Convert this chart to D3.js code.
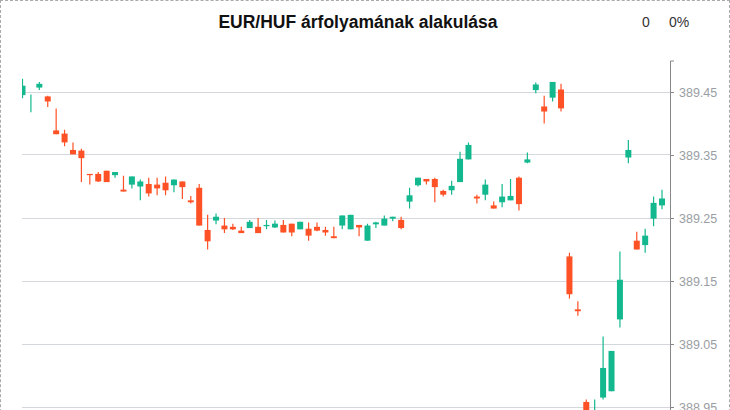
<!DOCTYPE html>
<html>
<head>
<meta charset="utf-8">
<script src="https://d3js.org/d3.v7.min.js"></script>
<style>
	body { margin: 0; background: #fff; }
	#chart-container { width: 728px; height: 520px; border: 1px dashed #aaa; position: relative; }
	svg { display: block; font-family: "Liberation Sans", Arial, sans-serif; }
</style>
</head>
<body>
<div id="chart-container"></div>
<script>
let opens  = [389.445, 389.436, 389.457, 389.443, 389.389, 389.384, 389.358, 389.357, 389.320, 389.320,
	389.325, 389.318, 389.295, 389.303, 389.300, 389.304, 389.303, 389.306, 389.302, 389.308,
	389.278, 389.298, 389.231, 389.246, 389.238, 389.236, 389.230, 389.234, 389.236, 389.237,
	389.235, 389.239, 389.241, 389.232, 389.233, 389.236, 389.231, 389.221, 389.238, 389.232,
	389.239, 389.214, 389.240, 389.238, 389.249, 389.247, 389.276, 389.302, 389.312, 389.312,
	389.293, 389.294, 389.307, 389.343, 389.284, 389.287, 389.270, 389.275, 389.278, 389.314,
	389.338, 389.453, 389.427, 389.441, 389.454, 389.189, 389.105, 388.958, 388.900, 388.965,
	388.975, 389.089, 389.346, 389.214, 389.207, 389.249, 389.270];
let highs  = [389.471, 389.446, 389.466, 389.444, 389.424, 389.390, 389.370, 389.360, 389.320, 389.323,
	389.325, 389.323, 389.317, 389.316, 389.311, 389.314, 389.314, 389.316, 389.311, 389.308,
	389.285, 389.304, 389.255, 389.257, 389.250, 389.241, 389.236, 389.247, 389.250, 389.247,
	389.246, 389.247, 389.241, 389.244, 389.243, 389.243, 389.236, 389.236, 389.254, 389.255,
	389.239, 389.241, 389.244, 389.254, 389.252, 389.252, 389.298, 389.314, 389.312, 389.314,
	389.295, 389.309, 389.355, 389.370, 389.287, 389.311, 389.276, 389.304, 389.312, 389.316,
	389.354, 389.465, 389.444, 389.466, 389.463, 389.195, 389.118, 388.962, 388.962, 389.062,
	389.039, 389.197, 389.374, 389.228, 389.233, 389.284, 389.295];
let lows   = [389.440, 389.418, 389.453, 389.426, 389.383, 389.364, 389.351, 389.307, 389.303, 389.307,
	389.307, 389.314, 389.292, 389.297, 389.278, 389.284, 389.286, 389.286, 389.291, 389.280,
	389.273, 389.238, 389.200, 389.240, 389.226, 389.231, 389.226, 389.234, 389.226, 389.232,
	389.234, 389.227, 389.221, 389.232, 389.214, 389.229, 389.222, 389.218, 389.232, 389.232,
	389.221, 389.214, 389.234, 389.238, 389.245, 389.232, 389.265, 389.300, 389.303, 389.275,
	389.284, 389.287, 389.307, 389.343, 389.273, 389.278, 389.265, 389.267, 389.278, 389.262,
	389.337, 389.448, 389.400, 389.435, 389.419, 389.122, 389.095, 388.920, 388.890, 388.962,
	388.975, 389.076, 389.337, 389.200, 389.195, 389.237, 389.264];
let closes = [389.460, 389.436, 389.463, 389.435, 389.383, 389.370, 389.351, 389.345, 389.318, 389.308,
	389.307, 389.323, 389.292, 389.316, 389.308, 389.289, 389.297, 389.294, 389.311, 389.299,
	389.275, 389.238, 389.213, 389.252, 389.232, 389.232, 389.226, 389.244, 389.226, 389.239,
	389.241, 389.227, 389.227, 389.244, 389.222, 389.230, 389.227, 389.218, 389.254, 389.255,
	389.235, 389.238, 389.243, 389.249, 389.252, 389.234, 389.286, 389.314, 389.308, 389.299,
	389.287, 389.301, 389.344, 389.366, 389.281, 389.303, 389.265, 389.284, 389.285, 389.272,
	389.343, 389.462, 389.419, 389.466, 389.424, 389.129, 389.102, 388.930, 388.940, 389.012,
	389.039, 389.152, 389.358, 389.200, 389.222, 389.274, 389.281];

let yTicks = [388.95, 389.05, 389.15, 389.25, 389.35, 389.45];
let titleText = "EUR/HUF árfolyamának alakulása";
let changeText = "0";
let changePctText = "0%";

let width = 728, height = 520;
let plotLeft = 21, plotRight = 669, plotTop = 59.5, plotBottom = 469;
let upColor = "#14b88f", downColor = "#ff5126";

let svg = d3.select("#chart-container")
	.append("svg")
	.attr("width", width)
	.attr("height", height);

let bars = d3.range(opens.length);

let x = d3.scalePoint()
	.domain(bars)
	.range([21.5, 661]);

let y = d3.scaleLinear()
	.domain([388.85, 389.5])
	.range([plotBottom, plotTop]);

// grid
svg.append("g")
	.selectAll("line")
	.data(yTicks)
	.enter().append("line")
	.attr("x1", plotLeft)
	.attr("x2", plotRight)
	.attr("y1", function(d) { return Math.floor(y(d)) + 0.5; })
	.attr("y2", function(d) { return Math.floor(y(d)) + 0.5; })
	.attr("stroke", "#d4d7db")
	.attr("stroke-width", 1);

svg.append("clipPath")
	.attr("id", "plot-clip")
	.append("rect")
	.attr("x", plotLeft)
	.attr("y", plotTop)
	.attr("width", plotRight - plotLeft)
	.attr("height", plotBottom - plotTop);

let candles = svg.append("g")
	.attr("clip-path", "url(#plot-clip)")
	.selectAll("g")
	.data(bars)
	.enter().append("g");

function candleColor(i) {
	return closes[i] >= opens[i] ? upColor : downColor;
}

candles.append("line")
	.attr("x1", function(i) { return x(i); })
	.attr("x2", function(i) { return x(i); })
	.attr("y1", function(i) { return y(highs[i]); })
	.attr("y2", function(i) { return y(lows[i]); })
	.attr("stroke", candleColor)
	.attr("stroke-width", 1.2);

candles.append("rect")
	.attr("x", function(i) { return x(i) - 3; })
	.attr("width", 6)
	.attr("y", function(i) { return y(Math.max(opens[i], closes[i])); })
	.attr("height", function(i) { return Math.abs(y(opens[i]) - y(closes[i])); })
	.attr("fill", candleColor);

// right axis
let yAxis = svg.append("g")
	.attr("transform", "translate(" + plotRight + ",0)")
	.call(d3.axisRight(y)
		.tickValues(yTicks)
		.tickFormat(d3.format(".2f"))
		.tickSize(4)
		.tickSizeOuter(4)
		.tickPadding(5));

yAxis.select(".domain").attr("stroke", "#888");
yAxis.selectAll(".tick line").attr("stroke", "#888");
yAxis.selectAll(".tick text")
	.attr("fill", "#9a9ea4")
	.style("font-size", "12.5px")
	.style("font-family", "'Liberation Sans', Arial, sans-serif");

// title and change
svg.append("text")
	.attr("x", 357)
	.attr("y", 27)
	.style("text-anchor", "middle")
	.style("font-weight", "bold")
	.style("font-size", "17.5px")
	.attr("fill", "#111")
	.text(titleText);

svg.append("text")
	.attr("x", 645)
	.attr("y", 26)
	.style("text-anchor", "middle")
	.style("font-size", "14px")
	.attr("fill", "#333")
	.text(changeText);

svg.append("text")
	.attr("x", 668)
	.attr("y", 26)
	.style("font-size", "14px")
	.attr("fill", "#333")
	.text(changePctText);
</script>
</body>
</html>
